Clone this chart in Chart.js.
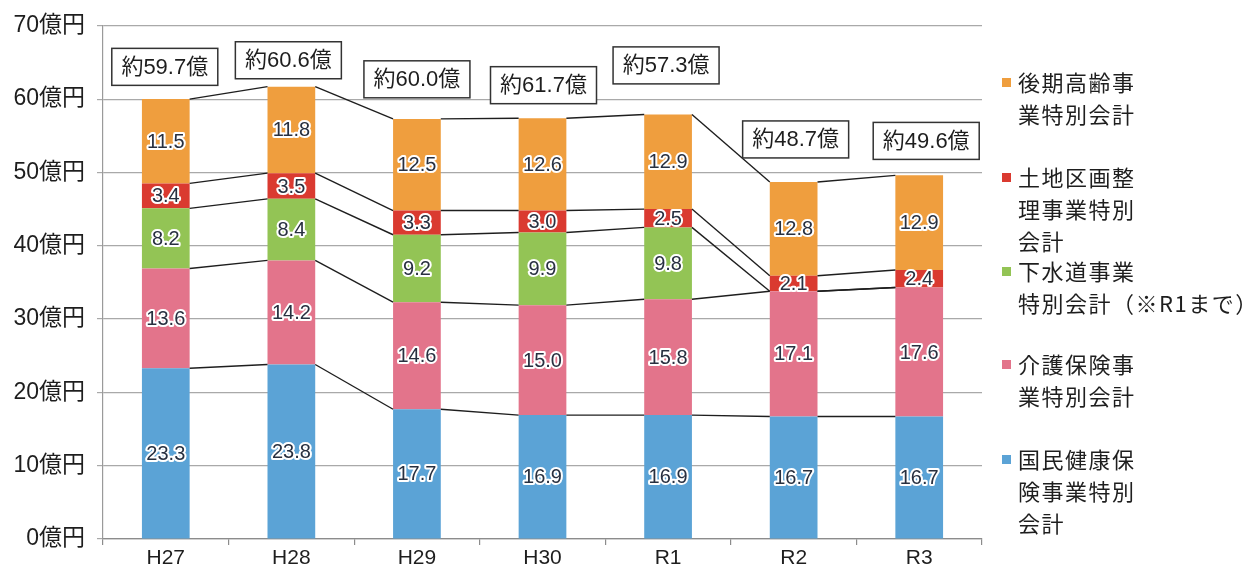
<!DOCTYPE html>
<html>
<head>
<meta charset="utf-8">
<script src="https://cdn.jsdelivr.net/npm/chart.js@4"></script>
<style>
  html, body { margin: 0; padding: 0; background: #fff; }
  #wrap { width: 1250px; height: 575px; }
</style>
</head>
<body>
<div id="wrap"><canvas id="c" width="1250" height="575"></canvas></div>
<script>
// 年度
const years = ['H27', 'H28', 'H29', 'H30', 'R1', 'R2', 'R3'];

// 各特別会計の繰出金（億円）
const kokuho  = [23.3, 23.8, 17.7, 16.9, 16.9, 16.7, 16.7]; // 国民健康保険事業特別会計
const kaigo   = [13.6, 14.2, 14.6, 15.0, 15.8, 17.1, 17.6]; // 介護保険事業特別会計
const gesuido = [8.2, 8.4, 9.2, 9.9, 9.8, null, null];      // 下水道事業特別会計（R1まで）
const kukaku  = [3.4, 3.5, 3.3, 3.0, 2.5, 2.1, 2.4];        // 土地区画整理事業特別会計
const koki    = [11.5, 11.8, 12.5, 12.6, 12.9, 12.8, 12.9]; // 後期高齢者医療事業特別会計

// 合計の表示（億円）
const totals = [59.7, 60.6, 60.0, 61.7, 57.3, 48.7, 49.6];

// 凡例の表記（折り返し済み）
const legendNames = {
  koki:    ['後期高齢事', '業特別会計'],
  kukaku:  ['土地区画整', '理事業特別', '会計'],
  gesuido: ['下水道事業', '特別会計（※R1まで）'],
  kaigo:   ['介護保険事', '業特別会計'],
  kokuho:  ['国民健康保', '険事業特別', '会計']
};

const FONT = '"Liberation Sans", "Noto Sans CJK JP", sans-serif';
const CJK = '"Noto Sans CJK JP", sans-serif';

const series = [
  { key: 'kokuho',  data: kokuho,  color: '#5ba3d6' },
  { key: 'kaigo',   data: kaigo,   color: '#e3748b' },
  { key: 'gesuido', data: gesuido, color: '#93c455' },
  { key: 'kukaku',  data: kukaku,  color: '#da3a30' },
  { key: 'koki',    data: koki,    color: '#ef9e3e' }
];

// 系列線（各系列の上端を隣の棒とつなぐ）
const seriesLinesPlugin = {
  id: 'seriesLines',
  afterDatasetsDraw(chart) {
    const ctx = chart.ctx;
    const y = chart.scales.y;
    const n = years.length;
    const cum = [];
    series.forEach((s, d) => {
      cum[d] = [];
      for (let i = 0; i < n; i++) {
        cum[d][i] = (d ? cum[d - 1][i] : 0) + (s.data[i] || 0);
      }
    });
    const meta0 = chart.getDatasetMeta(0);
    ctx.save();
    ctx.strokeStyle = '#1e1e1e';
    ctx.lineWidth = 1.4;
    series.forEach((s, d) => {
      for (let i = 0; i < n - 1; i++) {
        const a = meta0.data[i], b = meta0.data[i + 1];
        ctx.beginPath();
        ctx.moveTo(a.x + a.width / 2, y.getPixelForValue(cum[d][i]));
        ctx.lineTo(b.x - b.width / 2, y.getPixelForValue(cum[d][i + 1]));
        ctx.stroke();
      }
    });
    ctx.restore();
  }
};

// 棒の中の数値ラベル（白縁取り）
const valueLabelsPlugin = {
  id: 'valueLabels',
  afterDraw(chart) {
    const ctx = chart.ctx;
    ctx.save();
    ctx.font = '20px ' + FONT;
    ctx.textAlign = 'center';
    ctx.textBaseline = 'middle';
    ctx.lineJoin = 'round';
    chart.data.datasets.forEach((ds, d) => {
      const meta = chart.getDatasetMeta(d);
      meta.data.forEach((bar, i) => {
        const v = ds.data[i];
        if (v == null || v === 0) return;
        const cy = (bar.y + bar.base) / 2;
        const txt = v.toFixed(1);
        ctx.lineWidth = 4;
        ctx.strokeStyle = '#ffffff';
        ctx.strokeText(txt, bar.x, cy + 1);
        ctx.fillStyle = '#283040';
        ctx.fillText(txt, bar.x, cy + 1);
      });
    });
    ctx.restore();
  }
};

// 合計の枠付きラベル
const totalBoxesPlugin = {
  id: 'totalBoxes',
  afterDraw(chart, args, opts) {
    const ctx = chart.ctx;
    const y = chart.scales.y;
    const meta0 = chart.getDatasetMeta(0);
    ctx.save();
    ctx.font = '22px ' + FONT;
    ctx.textAlign = 'center';
    ctx.textBaseline = 'middle';
    totals.forEach((t, i) => {
      const cx = meta0.data[i].x + opts.dx[i];
      const cy = y.getPixelForValue(opts.at[i]);
      const w = 106, h = 37;
      ctx.fillStyle = '#fff';
      ctx.fillRect(cx - w / 2, cy - h / 2, w, h);
      ctx.strokeStyle = '#333';
      ctx.lineWidth = 1.5;
      ctx.strokeRect(cx - w / 2, cy - h / 2, w, h);
      ctx.fillStyle = '#1e1e1e';
      ctx.fillText('約' + t.toFixed(1) + '億', cx, cy + 1);
    });
    ctx.restore();
  }
};

// 右側の凡例
const sideLegendPlugin = {
  id: 'sideLegend',
  afterDraw(chart, args, opts) {
    const ctx = chart.ctx;
    ctx.save();
    ctx.font = '22px ' + CJK;
    ctx.textAlign = 'left';
    ctx.textBaseline = 'middle';
    if ('letterSpacing' in ctx) ctx.letterSpacing = '1.5px';
    opts.items.forEach(it => {
      const s = series.find(q => q.key === it.key);
      ctx.fillStyle = s.color;
      ctx.fillRect(opts.markerX, it.y - 5, 9, 9);
      ctx.fillStyle = '#1e1e1e';
      legendNames[it.key].forEach((line, k) => {
        ctx.fillText(line, opts.textX, it.y + k * opts.lineH);
      });
    });
    ctx.restore();
  }
};

new Chart(document.getElementById('c'), {
  type: 'bar',
  data: {
    labels: years,
    datasets: series.map(s => ({
      label: legendNames[s.key].join(''),
      data: s.data,
      backgroundColor: s.color,
      borderWidth: 0,
      barPercentage: 0.38,
      categoryPercentage: 1.0
    }))
  },
  options: {
    responsive: false,
    animation: false,
    devicePixelRatio: 1,
    layout: { padding: { left: 0, top: 18, right: 268, bottom: 0 } },
    plugins: {
      legend: { display: false },
      tooltip: { enabled: false },
      totalBoxes: {
        dx: [-1, -3, 0, 1, -2, 2, 7],
        at: [64.4, 65.3, 62.7, 61.9, 64.6, 54.5, 54.3]
      },
      sideLegend: {
        markerX: 1002,
        textX: 1018,
        lineH: 32,
        items: [
          { key: 'koki', y: 83 },
          { key: 'kukaku', y: 178 },
          { key: 'gesuido', y: 272 },
          { key: 'kaigo', y: 365 },
          { key: 'kokuho', y: 460 }
        ]
      }
    },
    scales: {
      x: {
        stacked: true,
        grid: { drawOnChartArea: false, tickLength: 6, color: '#8c8c8c', lineWidth: 1.2 },
        border: { color: '#8c8c8c', width: 1.2 },
        ticks: { color: '#1e1e1e', font: { size: 21, family: FONT }, padding: 1 },
        afterFit(s) { s.height = 36; }
      },
      y: {
        stacked: true,
        min: 0,
        max: 70,
        ticks: {
          stepSize: 10,
          color: '#1e1e1e',
          font: { size: 23, family: FONT },
          padding: 12,
          callback: v => v + '億円'
        },
        grid: { color: '#a9a9a9', lineWidth: 1.2, tickLength: 6 },
        border: { color: '#9a9a9a', width: 1.2 },
        afterFit(s) { s.width = 103; }
      }
    }
  },
  plugins: [seriesLinesPlugin, valueLabelsPlugin, totalBoxesPlugin, sideLegendPlugin]
});
</script>
</body>
</html>
